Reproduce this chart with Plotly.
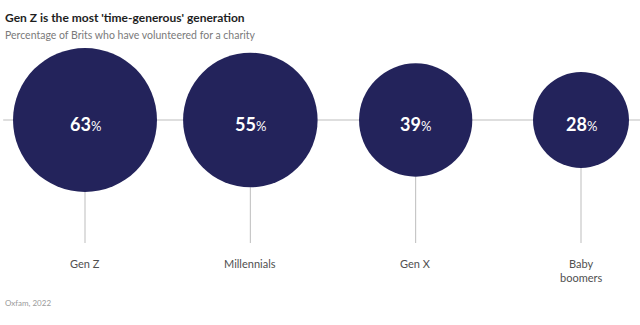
import math
import plotly.graph_objects as go

# Share of Brits who have volunteered for a charity, by generation
generations = ["Gen Z", "Millennials", "Gen X", "Baby<br>boomers"]
volunteered_pct = [63, 55, 39, 28]
source_text = "Oxfam, 2022"

NAVY = "#23235b"
LINE = "#bdbdbd"
FONT = "Lato"

W, H = 640, 325
AXIS_Y = 120          # y of the horizontal connector (pixel-like units)
PX_PER_SQRT = 9.07    # bubble radius in px per sqrt(percentage)
STEM_END = 243
LABEL_TOP = 255

xs = list(range(len(generations)))
radii = [PX_PER_SQRT * math.sqrt(v) for v in volunteered_pct]

fig = go.Figure()

fig.add_trace(go.Scatter(
    x=xs, y=[AXIS_Y] * len(xs), mode="markers",
    marker=dict(size=[2 * r for r in radii], sizemode="diameter",
                color=NAVY, opacity=1, line=dict(width=0)),
    hoverinfo="skip", showlegend=False,
))

shapes = [dict(type="line", xref="paper", yref="y", x0=0.005, x1=1,
               y0=AXIS_Y, y1=AXIS_Y, line=dict(color=LINE, width=1), layer="below")]
annotations = []
for x, v, r, name in zip(xs, volunteered_pct, radii, generations):
    shapes.append(dict(type="line", xref="x", yref="y", x0=x, x1=x,
                       y0=AXIS_Y + r, y1=STEM_END,
                       line=dict(color=LINE, width=1), layer="below"))
    annotations.append(dict(
        x=x, y=AXIS_Y + 4, xref="x", yref="y", showarrow=False,
        text=f"<b>{v}</b><span style='font-size:13px'>%</span>",
        font=dict(family=FONT, size=18, color="white"),
        xanchor="center", yanchor="middle"))
    annotations.append(dict(
        x=x, y=LABEL_TOP, xref="x", yref="y", showarrow=False,
        text=name, font=dict(family=FONT, size=11, color="#505050"),
        xanchor="center", yanchor="top", align="center"))

annotations += [
    dict(x=3 / W, y=1 - 18 / H, xref="paper", yref="paper", showarrow=False,
         text="<b>Gen Z is the most 'time-generous' generation</b>",
         font=dict(family=FONT, size=12, color="#1e1e1e"),
         xanchor="left", yanchor="middle"),
    dict(x=3 / W, y=1 - 35 / H, xref="paper", yref="paper", showarrow=False,
         text="Percentage of Brits who have volunteered for a charity",
         font=dict(family=FONT, size=10.5, color="#7a7a7a"),
         xanchor="left", yanchor="middle"),
    dict(x=3 / W, y=1 - 303 / H, xref="paper", yref="paper", showarrow=False,
         text=source_text, font=dict(family=FONT, size=8, color="#9a9a9a"),
         xanchor="left", yanchor="middle"),
]

# 85 px for the first bubble centre, ~165.3 px between bubbles
step = (581 - 85) / 3
fig.update_layout(
    width=W, height=H, margin=dict(l=0, r=0, t=0, b=0),
    paper_bgcolor="white", plot_bgcolor="white",
    xaxis=dict(range=[-85 / step, 3 + (W - 581) / step], visible=False, fixedrange=True),
    yaxis=dict(range=[H, 0], visible=False, fixedrange=True),
    shapes=shapes, annotations=annotations,
)

fig.write_html("out.html", config={"displayModeBar": False})
